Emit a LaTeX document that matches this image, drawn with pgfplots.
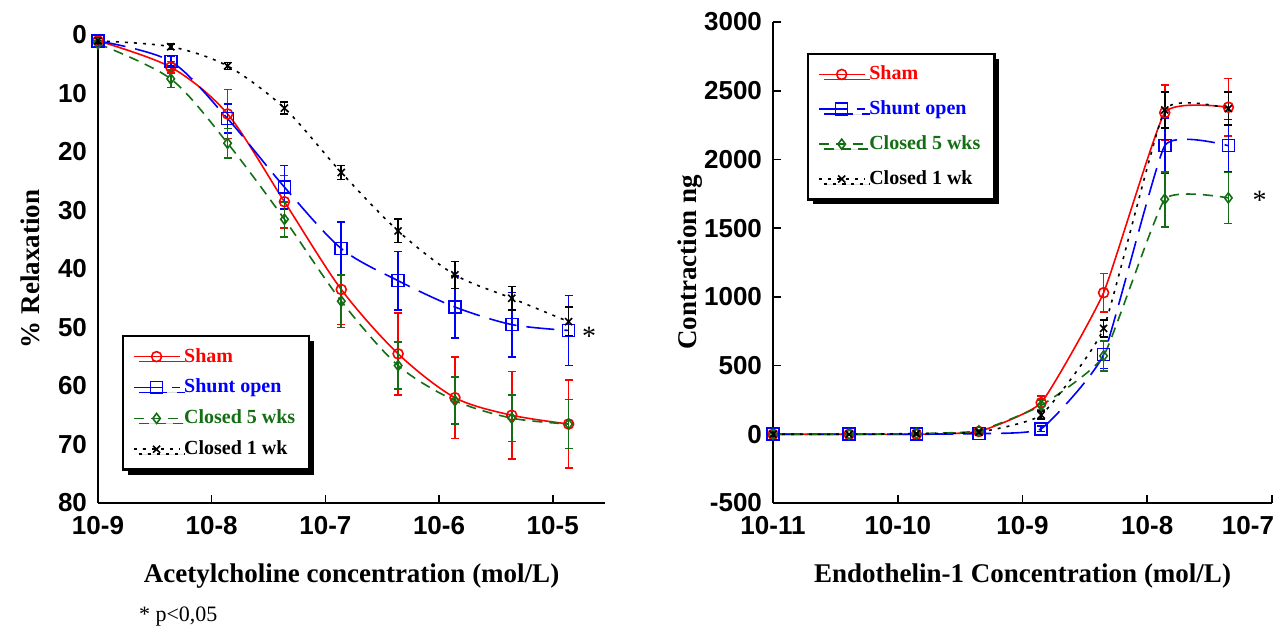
\documentclass[border=0pt]{standalone}
\usepackage{fontspec}
\setmainfont{Liberation Serif}
\newfontfamily\tickfont{Liberation Sans}
\usepackage{pgfplots}
\pgfplotsset{compat=1.18}
\usetikzlibrary{shadows}
\definecolor{sgreen}{RGB}{20,110,20}

\pgfplotsset{
  myaxis/.style={
    scale only axis,
    axis lines=left,
    axis line style={-, line width=1pt},
    tick align=inside,
    major tick length=4pt,
    tick style={line width=0.8pt, black},
    tick label style={font=\tickfont\bfseries\fontsize{13}{13}\selectfont},
    xticklabel style={yshift=-3pt},
    yticklabel style={xshift=-2pt},
    /pgf/number format/assume math mode=true,
    /pgf/number format/1000 sep={},
    label style={font=\bfseries\fontsize{13.5}{14}\selectfont},
    clip=false,
    legend cell align=left,
    legend image code/.code={\draw[mark repeat=2,mark phase=2,##1] plot coordinates {(0cm,0cm) (0.4cm,0cm) (0.8cm,0cm)};},
    legend style={draw=black, line width=1.2pt, fill=white,
      drop shadow={shadow xshift=2.5pt, shadow yshift=-2.5pt, opacity=1, fill=black},
      font=\bfseries\fontsize{10}{10}\selectfont, row sep=3pt, inner xsep=5pt, inner ysep=4pt},
    error bars/error bar style={solid, line width=0.8pt},
    error bars/error mark options={solid, rotate=90, mark size=2pt, line width=0.8pt},
  },
  sham/.style={color=red, solid, line width=0.8pt, mark=o, mark size=2.5pt, mark options={solid}},
  shunt/.style={color=blue, dash pattern=on 14pt off 5pt, line width=0.8pt, mark=square, mark size=3pt, mark options={solid}},
  cfive/.style={color=sgreen, dash pattern=on 5pt off 3.5pt, line width=0.8pt, mark=diamond, mark size=2.5pt, mark options={solid}},
  cone/.style={color=black, dash pattern=on 1.5pt off 3pt, line width=0.8pt, mark=x, mark size=2.5pt, mark options={solid}},
}

\begin{document}
\begin{tikzpicture}
\useasboundingbox (0,0) rectangle (642pt,315pt);

% ---------------- Left panel ----------------
\begin{axis}[myaxis,
  at={(49pt,63.5pt)}, anchor=south west,
  width=253.5pt, height=234pt,
  xmin=-9, xmax=-4.54,
  ymin=0, ymax=80, y dir=reverse,
  xtick={-9,-8,-7,-6,-5},
  xticklabels={10-9,10-8,10-7,10-6,10-5},
  ytick={0,10,...,80},
  ytick style={draw=none},
  xlabel={Acetylcholine concentration (mol/L)},
  ylabel={\% Relaxation},
  xlabel style={at={(axis description cs:0.5,0)}, anchor=center, yshift=-36.5pt},
  ylabel style={at={(axis description cs:-0.134,0.5)}, anchor=center},
  legend style={at={(axis description cs:0.047,0.359)}, anchor=north west},
]
\addplot[sham, smooth, error bars/.cd, y dir=both, y explicit] coordinates {
  (-9,1) +- (0,0.5) (-8.36,5.5) +- (0,1) (-7.86,13.5) +- (0,4.2) (-7.36,28.5) +- (0,4.5)
  (-6.86,43.5) +- (0,6) (-6.36,54.5) +- (0,7) (-5.86,62) +- (0,7) (-5.36,65) +- (0,7.5) (-4.86,66.5) +- (0,7.5)};
\addlegendentry[text=red]{Sham}
\addplot[shunt, smooth, error bars/.cd, y dir=both, y explicit] coordinates {
  (-9,1) +- (0,0.5) (-8.36,4.5) +- (0,0.8) (-7.86,14.3) +- (0,2.5) (-7.36,26) +- (0,3.7)
  (-6.86,36.5) +- (0,4.5) (-6.36,42) +- (0,5) (-5.86,46.5) +- (0,5.3) (-5.36,49.5) +- (0,5.5) (-4.86,50.5) +- (0,6)};
\addlegendentry[text=blue]{Shunt open}
\addplot[cfive, smooth, error bars/.cd, y dir=both, y explicit] coordinates {
  (-9,1.5) +- (0,0.5) (-8.36,7.5) +- (0,1.5) (-7.86,18.5) +- (0,2.5) (-7.36,31.5) +- (0,3)
  (-6.86,45.5) +- (0,4.5) (-6.36,56.5) +- (0,4) (-5.86,62.5) +- (0,4) (-5.36,65.5) +- (0,4) (-4.86,66.5) +- (0,4.2)};
\addlegendentry[text=sgreen]{Closed 5 wks}
\addplot[cone, smooth, error bars/.cd, y dir=both, y explicit] coordinates {
  (-9,1) +- (0,0.5) (-8.36,2) +- (0,0.5) (-7.86,5.3) +- (0,0.6) (-7.36,12.5) +- (0,1)
  (-6.86,23.5) +- (0,1.2) (-6.36,33.5) +- (0,2) (-5.86,41) +- (0,2.3) (-5.36,45) +- (0,2) (-4.86,49) +- (0,2.5)};
\addlegendentry[text=black]{Closed 1 wk}
\node[font=\fontsize{14}{14}\selectfont] at (axis cs:-4.68,51.5) {*};
\end{axis}

\node[anchor=west, font=\fontsize{11}{11}\selectfont] at (66pt,6.5pt) {* p<0,05};

% ---------------- Right panel ----------------
\begin{axis}[myaxis,
  at={(386.5pt,63.5pt)}, anchor=south west,
  width=249.5pt, height=240.5pt,
  xmin=-11, xmax=-7,
  ymin=-500, ymax=3000,
  xtick={-11,-10,-9,-8,-7},
  xticklabels={10-11,10-10,10-9,10-8,\hspace*{-24pt}10-7},
  ytick={-500,0,...,3000},
  xlabel={Endothelin-1 Concentration (mol/L)},
  ylabel={Contraction ng},
  xlabel style={at={(axis description cs:0.5,0)}, anchor=center, yshift=-36.5pt},
  ylabel style={at={(axis description cs:-0.166,0.5)}, anchor=center},
  legend style={at={(axis description cs:0.068,0.936)}, anchor=north west, row sep=5pt},
]
\addplot[sham, smooth, tension=0.25, error bars/.cd, y dir=both, y explicit] coordinates {
  (-11,0) (-10.39,0) (-9.85,0) +- (0,10) (-9.35,20) +- (0,15) (-8.85,230) +- (0,50)
  (-8.35,1030) +- (0,140) (-7.86,2340) +- (0,200) (-7.35,2380) +- (0,210)};
\addlegendentry[text=red]{Sham}
\addplot[shunt, smooth, tension=0.25, error bars/.cd, y dir=both, y explicit] coordinates {
  (-11,0) (-10.39,0) (-9.85,0) +- (0,5) (-9.35,5) +- (0,10) (-8.85,40) +- (0,20)
  (-8.35,580) +- (0,100) (-7.86,2100) +- (0,200) (-7.35,2100) +- (0,190)};
\addlegendentry[text=blue]{Shunt open}
\addplot[cfive, smooth, tension=0.25, error bars/.cd, y dir=both, y explicit] coordinates {
  (-11,0) (-10.39,0) (-9.85,5) +- (0,5) (-9.35,25) +- (0,10) (-8.85,210) +- (0,40)
  (-8.35,570) +- (0,110) (-7.86,1710) +- (0,200) (-7.35,1720) +- (0,185)};
\addlegendentry[text=sgreen]{Closed 5 wks}
\addplot[cone, smooth, tension=0.25, error bars/.cd, y dir=both, y explicit] coordinates {
  (-11,0) (-10.39,0) (-9.85,5) +- (0,5) (-9.35,15) +- (0,10) (-8.85,140) +- (0,30)
  (-8.35,770) +- (0,60) (-7.86,2360) +- (0,130) (-7.35,2370) +- (0,120)};
\addlegendentry[text=black]{Closed 1 wk}
\node[font=\fontsize{14}{14}\selectfont] at (axis cs:-7.1,1700) {*};
\end{axis}
\end{tikzpicture}
\end{document}
